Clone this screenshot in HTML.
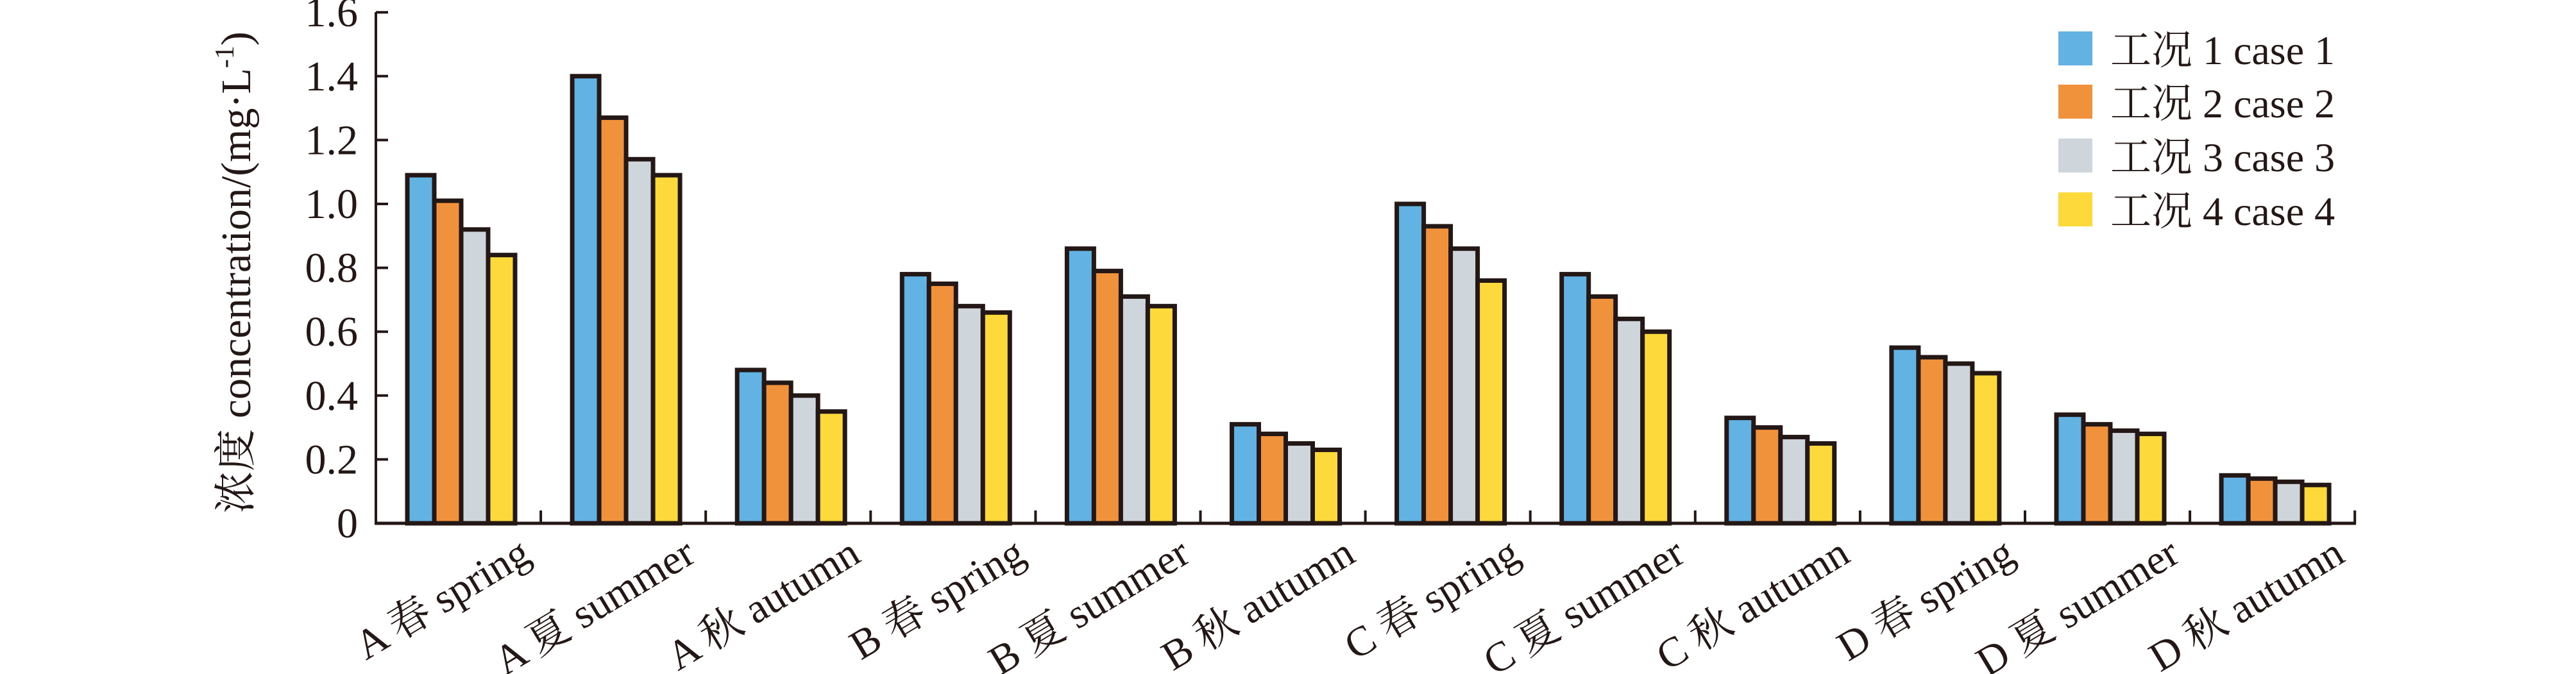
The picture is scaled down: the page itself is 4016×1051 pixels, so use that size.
<!DOCTYPE html>
<html><head><meta charset="utf-8"><style>html,body{margin:0;padding:0;background:#fff}svg{display:block}</style></head>
<body>
<svg width="4016" height="1051" viewBox="0 0 4016 1051" xmlns="http://www.w3.org/2000/svg" font-family="'Liberation Serif','Noto Serif CJK SC',serif" fill="#231815">
<g id="bars" stroke="#231815" stroke-width="7"></g>
<line x1="586" y1="19" x2="586" y2="818" stroke="#231815" stroke-width="4"/>
<line x1="584" y1="816" x2="3673" y2="816" stroke="#231815" stroke-width="5"/>
<g id="ticks" stroke="#231815" stroke-width="4"></g>
<g id="labels" font-size="65"></g>
<text transform="translate(390,425) rotate(-90)" font-size="66" text-anchor="middle">浓度 concentration/(mg·L<tspan font-size="42" dy="-26">-1</tspan><tspan dy="26">)</tspan></text>
<g font-size="64">
<rect x="3209" y="49" width="53" height="53" fill="#62b3e3"/><text x="3290" y="100">工况 1 case 1</text>
<rect x="3209" y="132" width="53" height="53" fill="#f0913b"/><text x="3290" y="183">工况 2 case 2</text>
<rect x="3209" y="216" width="53" height="53" fill="#cfd6db"/><text x="3290" y="267">工况 3 case 3</text>
<rect x="3209" y="300" width="53" height="53" fill="#fdd93c"/><text x="3290" y="351">工况 4 case 4</text>
</g>
<script>
var NS="http://www.w3.org/2000/svg";
var data=[[1.09,1.01,0.92,0.84],[1.40,1.27,1.14,1.09],[0.48,0.44,0.40,0.35],[0.78,0.75,0.68,0.66],[0.86,0.79,0.71,0.68],[0.31,0.28,0.25,0.23],[1.00,0.93,0.86,0.76],[0.78,0.71,0.64,0.60],[0.33,0.30,0.27,0.25],[0.55,0.52,0.50,0.47],[0.34,0.31,0.29,0.28],[0.15,0.14,0.13,0.12]];
var names=["A 春 spring","A 夏 summer","A 秋 autumn","B 春 spring","B 夏 summer","B 秋 autumn","C 春 spring","C 夏 summer","C 秋 autumn","D 春 spring","D 夏 summer","D 秋 autumn"];
var cols=["#62b3e3","#f0913b","#cfd6db","#fdd93c"];
var x0=586,cw=257.1,y0=816,k=498;
function el(t,a,p,txt){var e=document.createElementNS(NS,t);for(var i in a)e.setAttribute(i,a[i]);if(txt)e.textContent=txt;p.appendChild(e);return e;}
var B=document.getElementById("bars"),T=document.getElementById("ticks"),L=document.getElementById("labels");
data.forEach(function(g,i){var s=x0+i*cw+49;g.forEach(function(v,j){var h=v*k;el("rect",{x:s+j*42,y:y0-h,width:42,height:h,fill:cols[j]},B);});
var cx=x0+i*cw+cw/2;el("text",{"text-anchor":"end",transform:"translate("+(cx+116)+",874) rotate(-31)"},L,names[i]);
el("line",{x1:x0+(i+1)*cw,y1:y0,x2:x0+(i+1)*cw,y2:y0-20},T);});
for(var t=0;t<=8;t++){var y=y0-t*99.6;el("line",{x1:586,y1:y,x2:605,y2:y},T);el("text",{x:558,y:y+22,"text-anchor":"end","font-size":66},L,t==0?"0":(t*0.2).toFixed(1));}
</script>
</svg>
</body></html>
